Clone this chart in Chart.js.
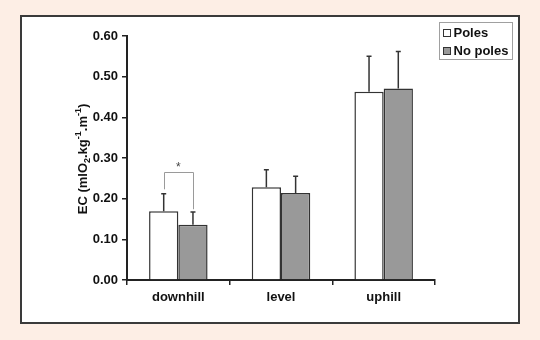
<!DOCTYPE html>
<html>
<head>
<meta charset="utf-8">
<script src="https://cdn.jsdelivr.net/npm/chart.js@4/dist/chart.umd.min.js"></script>
<style>
  html, body { margin: 0; padding: 0; background: #fdeee5; }
  canvas { display: block; }
</style>
</head>
<body>
<canvas id="chart" width="540" height="340"></canvas>
<script>
// data
var categories = ['downhill', 'level', 'uphill'];
var seriesNames = ['Poles', 'No poles'];
var polesMean = [0.169, 0.228, 0.463];
var polesSD = [0.043, 0.043, 0.087];
var noPolesMean = [0.136, 0.214, 0.471];
var noPolesSD = [0.031, 0.041, 0.091];
// significance bracket over downhill: bar height level, left/right leg ends
var sigCategory = 0;
var sigLevel = 0.266;
var sigLegs = [0.223, 0.174];
var sigMark = '*';

var FONT = '"Liberation Sans", Arial, sans-serif';

var framePlugin = {
  id: 'frame',
  beforeDraw: function (chart) {
    var ctx = chart.ctx;
    ctx.save();
    ctx.fillStyle = '#fdeee5';
    ctx.fillRect(0, 0, chart.width, chart.height);
    ctx.fillStyle = '#ffffff';
    ctx.fillRect(21, 16, 498, 307);
    ctx.strokeStyle = '#3a3a3a';
    ctx.lineWidth = 2;
    ctx.strokeRect(21, 16, 498, 307);
    ctx.restore();
  }
};

var errorBarPlugin = {
  id: 'errorBars',
  afterDatasetsDraw: function (chart) {
    var ctx = chart.ctx;
    var y = chart.scales.y;
    ctx.save();
    ctx.strokeStyle = '#333333';
    ctx.lineWidth = 1.5;
    chart.data.datasets.forEach(function (ds, di) {
      var meta = chart.getDatasetMeta(di);
      meta.data.forEach(function (bar, i) {
        var top = y.getPixelForValue(ds.data[i] + ds.sd[i]);
        ctx.beginPath();
        ctx.moveTo(bar.x, bar.y);
        ctx.lineTo(bar.x, top);
        ctx.moveTo(bar.x - 2.5, top);
        ctx.lineTo(bar.x + 2.5, top);
        ctx.stroke();
      });
    });

    // significance bracket
    var b0 = chart.getDatasetMeta(0).data[sigCategory];
    var b1 = chart.getDatasetMeta(1).data[sigCategory];
    var yl = y.getPixelForValue(sigLevel);
    ctx.strokeStyle = '#9a9a9a';
    ctx.lineWidth = 1;
    ctx.beginPath();
    ctx.moveTo(Math.round(b0.x) + 0.5, y.getPixelForValue(sigLegs[0]));
    ctx.lineTo(Math.round(b0.x) + 0.5, Math.round(yl) + 0.5);
    ctx.lineTo(Math.round(b1.x) + 0.5, Math.round(yl) + 0.5);
    ctx.lineTo(Math.round(b1.x) + 0.5, y.getPixelForValue(sigLegs[1]));
    ctx.stroke();
    ctx.fillStyle = '#444444';
    ctx.font = '12px ' + FONT;
    ctx.textAlign = 'center';
    ctx.textBaseline = 'alphabetic';
    ctx.fillText(sigMark, (b0.x + b1.x) / 2, yl - 1);
    ctx.restore();
  }
};

var yTitlePlugin = {
  id: 'yTitle',
  afterDraw: function (chart) {
    var ctx = chart.ctx;
    var parts = [
      ['EC (mlO', 0], ['2', 1], ['.kg', 0], ['-1', -1], ['.m', 0], ['-1', -1], [')', 0]
    ];
    var big = 'bold 13px ' + FONT;
    var small = 'bold 9px ' + FONT;
    ctx.save();
    var total = 0;
    parts.forEach(function (p) {
      ctx.font = p[1] === 0 ? big : small;
      total += ctx.measureText(p[0]).width;
    });
    var area = chart.chartArea;
    ctx.translate(87, (area.top + area.bottom) / 2 + 1);
    ctx.rotate(-Math.PI / 2);
    ctx.fillStyle = '#111111';
    ctx.textBaseline = 'alphabetic';
    ctx.textAlign = 'left';
    var x = -total / 2;
    parts.forEach(function (p) {
      ctx.font = p[1] === 0 ? big : small;
      var dy = p[1] === 1 ? 3 : (p[1] === -1 ? -6 : 0);
      ctx.fillText(p[0], x, dy);
      x += ctx.measureText(p[0]).width;
    });
    ctx.restore();
  }
};

var legendPlugin = {
  id: 'boxLegend',
  afterDraw: function (chart) {
    var ctx = chart.ctx;
    ctx.save();
    ctx.fillStyle = '#ffffff';
    ctx.fillRect(439, 22, 73, 37);
    ctx.strokeStyle = '#a0a0a0';
    ctx.lineWidth = 1;
    ctx.strokeRect(439.5, 22.5, 73, 37);
    ctx.font = 'bold 13px ' + FONT;
    ctx.textBaseline = 'middle';
    ctx.textAlign = 'left';
    chart.data.datasets.forEach(function (ds, i) {
      var cy = 33 + i * 18;
      ctx.fillStyle = ds.backgroundColor;
      ctx.fillRect(443, cy - 4, 8, 8);
      ctx.strokeStyle = '#333333';
      ctx.strokeRect(443.5, cy - 3.5, 7, 7);
      ctx.fillStyle = '#111111';
      ctx.fillText(ds.label, 453.5, cy + 0.5);
    });
    ctx.restore();
  }
};

var ctx = document.getElementById('chart').getContext('2d');
var chart = new Chart(ctx, {
  type: 'bar',
  data: {
    labels: categories,
    datasets: [
      {
        label: seriesNames[0],
        data: polesMean,
        sd: polesSD,
        backgroundColor: '#ffffff',
        borderColor: '#333333',
        borderWidth: 1.5
      },
      {
        label: seriesNames[1],
        data: noPolesMean,
        sd: noPolesSD,
        backgroundColor: '#999999',
        borderColor: '#333333',
        borderWidth: 1.5
      }
    ]
  },
  options: {
    responsive: false,
    animation: false,
    events: [],
    layout: { padding: { left: 0, right: 105, top: 36, bottom: 0 } },
    datasets: { bar: { barPercentage: 1, categoryPercentage: 0.57 } },
    plugins: {
      legend: { display: false },
      tooltip: { enabled: false }
    },
    scales: {
      x: {
        afterFit: function (s) { s.height = 60; },
        grid: { drawOnChartArea: false, tickLength: 5, color: '#222222', lineWidth: 1.5 },
        border: { color: '#222222', width: 2 },
        ticks: {
          padding: 5,
          color: '#111111',
          font: { family: FONT, size: 13, weight: 'bold' }
        }
      },
      y: {
        min: 0,
        max: 0.6,
        afterFit: function (s) { s.width = 127; },
        grid: { drawOnChartArea: false, tickLength: 5, color: '#222222', lineWidth: 1.5 },
        border: { color: '#222222', width: 2 },
        ticks: {
          stepSize: 0.1,
          padding: 4,
          color: '#111111',
          font: { family: FONT, size: 13, weight: 'bold' },
          callback: function (v) { return v.toFixed(2); }
        }
      }
    }
  },
  plugins: [framePlugin, errorBarPlugin, yTitlePlugin, legendPlugin]
});
</script>
</body>
</html>
